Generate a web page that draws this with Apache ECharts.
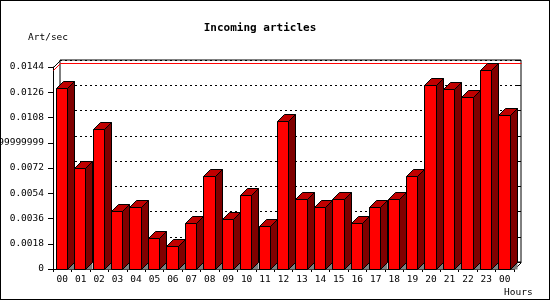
<!DOCTYPE html>
<html>
<head>
<meta charset="utf-8">
<script src="https://cdn.jsdelivr.net/npm/echarts@6/dist/echarts.min.js"></script>
<style>
html,body{margin:0;padding:0;background:#fff;}
#wrap{width:550px;height:300px;box-sizing:border-box;border:1px solid #000;position:relative;overflow:hidden;}
#chart{position:absolute;left:-1px;top:-1px;width:550px;height:300px;}
</style>
</head>
<body>
<div id="wrap"><div id="chart"></div></div>
<script>
const hours = ["00","01","02","03","04","05","06","07","08","09","10","11","12","13","14","15","16","17","18","19","20","21","22","23","00"];
const artPerSec = [0.0129,0.00722,0.00998,0.00413,0.00442,0.00221,0.00164,0.0033,0.00665,0.00356,0.00527,0.00307,0.01057,0.00499,0.00442,0.00499,0.00328,0.00442,0.00499,0.00663,0.01312,0.01283,0.01226,0.01419,0.01098];
const yTickLabels = ["0","0.0018","0.0036","0.0054","0.0072","0.00899999999","0.0108","0.0126","0.0144"];
const yMin = 0, yMax = 0.0144, yStep = 0.0018;
const titleText = "Incoming articles";
const yName = "Art/sec";
const xName = "Hours";

const FONT = "'DejaVu Sans Mono', 'Liberation Mono', monospace";
const D = 7;
const maxVal = Math.max.apply(null, artPerSec);

function barItem(params, api) {
  const i = api.value(0), v = api.value(1);
  const t = api.coord([i, v]);
  const b = api.coord([i, 0]);
  const band = api.size([1, 0])[0];
  const left = t[0] - band / 2;
  const x0 = Math.round(left + band * 0.146) + 0.5;
  const x1 = Math.round(left + band * 0.146 + band * 0.613) + 0.5;
  const yt = Math.round(t[1]) + 0.5, yb = Math.round(b[1]) + 0.5;
  const st = {stroke: '#000', lineWidth: 1};
  return {
    type: 'group',
    children: [
      {type: 'polygon', shape: {points: [[x1, yb], [x1 + D, yb - D], [x1 + D, yb]]}, style: {fill: '#808080', stroke: null}},
      {type: 'polygon', shape: {points: [[x1, yt], [x1 + D, yt - D], [x1 + D, yb - D], [x1, yb]]}, style: Object.assign({fill: '#800000'}, st)},
      {type: 'polygon', shape: {points: [[x0, yt], [x0 + D, yt - D], [x1 + D, yt - D], [x1, yt]]}, style: Object.assign({fill: '#c00000'}, st)},
      {type: 'rect', shape: {x: x0, y: yt, width: x1 - x0, height: yb - yt}, style: Object.assign({fill: '#ff0000'}, st)}
    ]
  };
}

function frameItem(params, api) {
  const n = hours.length;
  const band = api.size([1, 0])[0];
  const pL = api.coord([0, yMax]);
  const pR = api.coord([n - 1, 0]);
  const xl = Math.round(pL[0] - band / 2) + 0.5;
  const xr = Math.round(pR[0] + band / 2) + 0.5;
  const ytop = Math.round(pL[1]) + 0.5;
  const ybot = Math.round(pR[1]) + 0.5;
  const ym = Math.round(api.coord([0, maxVal])[1]) + 0.5;
  return {
    type: 'group',
    children: [
      {type: 'polyline', shape: {points: [[xl, ytop], [xl + D, ytop - D]]}, style: {stroke: '#000', lineWidth: 1, fill: null}},
      {type: 'polyline', shape: {points: [[xr, ybot], [xr + D, ybot - D]]}, style: {stroke: '#000', lineWidth: 1, fill: null}},
      {type: 'polyline', shape: {points: [[xl, ym], [xl + D, ym - D], [xr + D, ym - D]]}, style: {stroke: '#ff0000', lineWidth: 1, fill: null}}
    ]
  };
}

const chart = echarts.init(document.getElementById('chart'), null, {renderer: 'canvas'});
const gridW = 461, gridH = 202, gL = 53, gT = 67;
chart.setOption({
  animation: false,
  backgroundColor: '#fff',
  title: [
    {text: titleText, left: 260, top: 23, padding: 0, textAlign: 'center', textStyle: {fontFamily: FONT, fontSize: 11, fontWeight: 'bold', color: '#000'}},
    {text: yName, left: 28, top: 33, padding: 0, textStyle: {fontFamily: FONT, fontSize: 9.5, fontWeight: 'normal', color: '#000'}},
    {text: xName, left: 504, top: 288, padding: 0, textStyle: {fontFamily: FONT, fontSize: 9.5, fontWeight: 'normal', color: '#000'}}
  ],
  grid: [
    {left: gL, top: gT, width: gridW, height: gridH, containLabel: false, outerBoundsMode: 'none'},
    {left: gL + D, top: gT - D, width: gridW, height: gridH, show: true, borderColor: '#000', borderWidth: 1, backgroundColor: '#fff', containLabel: false, outerBoundsMode: 'none'}
  ],
  xAxis: [
    {type: 'category', gridIndex: 0, data: hours, boundaryGap: true,
     axisLine: {lineStyle: {color: '#000', width: 1}},
     axisTick: {show: true, interval: 0, length: 3, lineStyle: {color: '#000'}},
     axisLabel: {interval: 0, margin: 6, fontFamily: FONT, fontSize: 9.5, color: '#000'},
     splitLine: {show: false}},
    {type: 'category', gridIndex: 1, data: hours, show: false}
  ],
  yAxis: [
    {type: 'value', gridIndex: 0, min: yMin, max: yMax, interval: yStep,
     axisLine: {show: true, lineStyle: {color: '#000', width: 1}},
     axisTick: {show: true, length: 5, lineStyle: {color: '#000'}},
     axisLabel: {margin: 9, fontFamily: FONT, fontSize: 9.5, color: '#000',
       formatter: function (val) { return yTickLabels[Math.round((val - yMin) / yStep)]; }},
     splitLine: {show: false}},
    {type: 'value', gridIndex: 1, min: yMin, max: yMax, interval: yStep, position: 'left',
     axisLine: {show: false}, axisTick: {show: false}, axisLabel: {show: false},
     splitLine: {show: true, lineStyle: {color: '#000', type: [2, 3], width: 1}}},
    {type: 'value', gridIndex: 1, min: yMin, max: yMax, interval: yStep, position: 'right',
     axisLine: {show: false}, axisTick: {show: true, inside: true, length: 5, lineStyle: {color: '#000'}}, axisLabel: {show: false},
     splitLine: {show: false}}
  ],
  series: [
    {type: 'custom', xAxisIndex: 0, yAxisIndex: 0, z: 3, renderItem: frameItem, data: [[0, 0]], silent: true, clip: false},
    {type: 'custom', xAxisIndex: 0, yAxisIndex: 0, z: 5, renderItem: barItem, clip: false,
     data: artPerSec.map(function (v, i) { return [i, v]; })}
  ]
});
</script>
</body>
</html>
